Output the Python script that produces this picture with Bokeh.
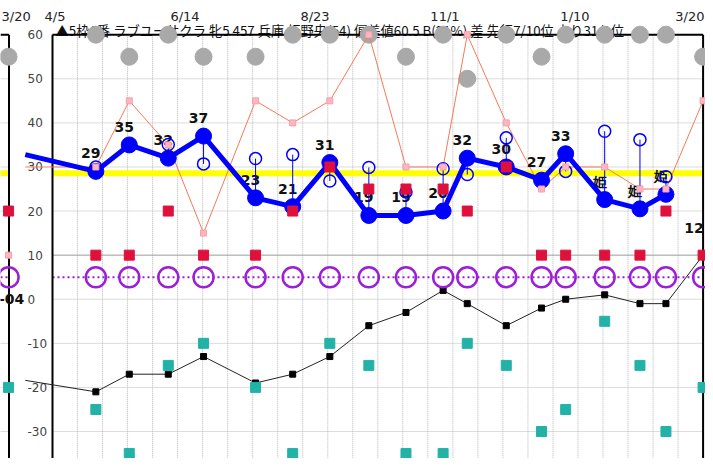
import datetime as dt
from bokeh.plotting import figure
from bokeh.models import Range1d
from bokeh.core.properties import value
from bokeh.embed import file_html
from bokeh.resources import INLINE

# ---------------- data ----------------
BASE = dt.date(2022, 4, 5)

race_dates = ["2022-04-27", "2022-05-15", "2022-06-05", "2022-06-24", "2022-07-22",
              "2022-08-11", "2022-08-31", "2022-09-21", "2022-10-11", "2022-10-31",
              "2022-11-13", "2022-12-04", "2022-12-23", "2023-01-05", "2023-01-26",
              "2023-02-14", "2023-02-28"]
blue_vals = [29, 35, 32, 37, 23, 21, 31, 19, 19, 20, 32, 30, 27, 33, 22.6, 20.5, 23.8]
blue_labels = ["29", "35", "32", "37", "23", "21", "31", "19", "19", "20", "32", "30",
               "27", "33", "姫", "姫", "姫"]
open_vals = [30, 35, 35.1, 30.7, 31.9, 32.8, 26.8, 29.9, 24.3, 29.6, 28.3, 36.6, 27,
             29.0, 38.1, 36.2, 27.8]
orange_vals = [30, 45, 35, 15, 45, 40, 45, 60, 30, 30, 60, 40, 25, 30, 30, 25, 25]
black_vals = [-21, -17, -17, -13, -19, -17, -13, -6, -3, 2, -1, -6, -2, 0, 1, -1, -1]
red_vals = [10, 10, 20, 10, 10, 20, 30, 25, 25, 25, 20, 30, 10, 10, 10, 10, 20]
teal_vals = [-25, -35, -15, -10, -20, -35, -10, -15, -35, -35, -10, -15, -30, -25, -5,
             -15, -30]
gray_vals = [60, 55, 60, 55, 55, 60, 60, 60, 55, 60, 50, 60, 55, 60, 60, 60, 60]
purple_level = 5
yellow_level = 28.6

# previous race (left column) and next race (right edge)
prev_date = "2022-03-11"
prev = dict(gray=55, red=20, teal=-20, orange=10, label="-04", label_val=-4)
next_date = "2023-03-20"
nxt = dict(gray=55, red=10, teal=-20, orange=45, black=10, label="12", label_val=12)
# values where the lines enter the chart from the left
lead_in_date = "2022-03-20"
lead_in = dict(blue=32.8, orange=30, black=-18.4)

date_ticks = ["2022-04-05", "2022-06-14", "2022-08-23", "2022-11-01", "2023-01-10",
              "2023-03-20"]
date_tick_labels = ["4/5", "6/14", "8/23", "11/1", "1/10", "3/20"]
y_ticks = [60, 50, 40, 30, 20, 10, 0, -10, -20, -30]

title = ("▲5枠6番 ラブユーサクラ 牝5 457 兵庫 板野央(54) 偏差値60.5 B(21%) "
         "差 先行7/10位 上り31/1位")


def day(s):
    return (dt.date.fromisoformat(s) - BASE).days


xs = [day(s) for s in race_dates]
xp = day(prev_date)
xn = day(next_date)
xl = day(lead_in_date)

# ---------------- screen <-> data helpers (layout only) ----------------
PX_PER_DAY = 1.857
X0 = 54.5
PX_PER_UNIT = 4.409
Y60 = 34.2
W, H = 705, 458


def sx(X):
    return (X - X0) / PX_PER_DAY


def sy(Y):
    return 60 - (Y - Y60) / PX_PER_UNIT


p = figure(width=W, height=H, x_range=Range1d(sx(0), sx(W)),
           y_range=Range1d(sy(H), sy(0)), output_backend="svg",
           toolbar_location=None, min_border=0, x_axis_location=None,
           y_axis_location=None, outline_line_color=None)
p.grid.visible = False
p.background_fill_color = "white"

left_b = sx(52)
right_b = xn
y_bot = sy(H + 10)

# vertical dotted grid (26 equal parts)
vg = [left_b + k * (right_b - left_b) / 26 for k in range(1, 26)]
p.segment(x0=vg, y0=[60] * len(vg), x1=vg, y1=[y_bot] * len(vg),
          line_color="#b8b8b8", line_width=1, line_dash="1 1")
# horizontal grid
hg = [t for t in y_ticks if t not in (60, 10)]
p.segment(x0=[left_b] * len(hg), y0=hg, x1=[right_b] * len(hg), y1=hg,
          line_color="#b8b8b8", line_width=1, line_dash="1 1")
p.segment(x0=[sx(0)] * len(hg), y0=hg, x1=[sx(8)] * len(hg), y1=hg,
          line_color="#b8b8b8", line_width=1, line_dash="1 1")
p.segment(x0=[left_b], y0=[10], x1=[right_b], y1=[10], line_color="#9a9a9a",
          line_width=1)

# texts
p.text(x=[sx(55)], y=[sy(30)], text=[title], text_font=value("Noto Sans CJK JP"),
       text_font_size="13.3px", text_baseline="alphabetic", text_align="left",
       text_color="#111")
p.text(x=[day(d) for d in date_ticks[:-1]], y=[sy(15.5)] * 5, text=date_tick_labels[:-1],
       text_font=value("DejaVu Sans"), text_font_size="13px", text_align="center",
       text_baseline="alphabetic", text_color="#222")
p.text(x=[sx(704)], y=[sy(15.5)], text=[date_tick_labels[-1]],
       text_font=value("DejaVu Sans"), text_font_size="13px", text_align="right",
       text_baseline="alphabetic", text_color="#222")
p.text(x=[sx(1)], y=[sy(15.5)], text=["3/20"], text_font=value("DejaVu Sans"),
       text_font_size="13px", text_align="left", text_baseline="alphabetic",
       text_color="#222")
p.text(x=[sx(27)] * len(y_ticks), y=y_ticks, text=[str(t) for t in y_ticks],
       text_font=value("DejaVu Sans"), text_font_size="12px", text_align="left",
       text_baseline="middle", text_color="#444")

# yellow level & purple dotted level
p.segment(x0=[left_b, sx(0)], y0=[yellow_level] * 2, x1=[right_b, sx(8)],
          y1=[yellow_level] * 2, line_color="#ffff00", line_width=6)
p.segment(x0=[left_b, sx(0)], y0=[purple_level] * 2, x1=[right_b, sx(8)],
          y1=[purple_level] * 2, line_color="#9a1fd6", line_width=2, line_dash="2 3")

# frame
p.segment(x0=[left_b, left_b, right_b, sx(8.5), sx(0)], y0=[60, 60, 60, 60, 60],
          x1=[right_b, left_b, right_b, sx(8.5), sx(8.5)],
          y1=[60, y_bot, y_bot, y_bot, 60],
          line_color="black", line_width=2)

allx = [xp] + xs + [xn]

# gray dots
p.scatter(x=allx, y=[prev["gray"]] + gray_vals + [nxt["gray"]], marker="circle",
          size=17, fill_color="#a9a9a9", line_color="#a9a9a9")

# orange line
ox = [xl] + xs + [xn]
oy = [lead_in["orange"]] + orange_vals + [nxt["orange"]]
p.line(x=ox, y=oy, line_color="#f47a5a", line_width=1)

# black line
bx = [xl] + xs + [xn]
by = [lead_in["black"]] + black_vals + [nxt["black"]]
p.line(x=bx, y=by, line_color="#222222", line_width=1)
p.scatter(x=xs, y=black_vals, marker="square", size=6, fill_color="black",
          line_color="black")

# value labels
p.text(x=xs, y=blue_vals, text=blue_labels,
       x_offset=-5, y_offset=-18, text_font=value("DejaVu Sans"),
       text_font_size="14px", text_font_style="bold", text_align="center",
       text_baseline="middle", text_color="#111")
p.text(x=[xn], y=[nxt["label_val"]], text=[nxt["label"]],
       x_offset=-9, y_offset=-18, text_font=value("DejaVu Sans"),
       text_font_size="14px", text_font_style="bold", text_align="center",
       text_baseline="middle", text_color="#111")
p.text(x=[xp], y=[prev["label_val"]], text=[prev["label"]], x_offset=3, y_offset=-18,
       text_font=value("DejaVu Sans"), text_font_size="14px", text_font_style="bold",
       text_align="center", text_baseline="middle", text_color="#111")

# blue line
p.line(x=[xl] + xs, y=[lead_in["blue"]] + blue_vals, line_color="#0000ff", line_width=5)
p.segment(x0=xs, y0=blue_vals, x1=xs, y1=open_vals, line_color="#0000ff", line_width=1)
p.scatter(x=xs, y=blue_vals, marker="circle", size=16, fill_color="#0000ff",
          line_color="#0000ff")
p.scatter(x=xs, y=open_vals, marker="circle", size=12, fill_color=None,
          line_color="#0000ff", line_width=1.5)

# purple circles
p.scatter(x=allx, y=[purple_level] * len(allx), marker="circle", size=20,
          fill_color=None, line_color="#9a1fd6", line_width=2.5)

# red & teal squares
p.scatter(x=allx, y=[prev["red"]] + red_vals + [nxt["red"]], marker="square", size=10,
          fill_color="#e0103c", line_color="#e0103c")
p.scatter(x=allx, y=[prev["teal"]] + teal_vals + [nxt["teal"]], marker="square",
          size=10, fill_color="#22b2a8", line_color="#22b2a8")

# pink markers on orange line
p.scatter(x=[xp] + xs + [xn], y=[prev["orange"]] + orange_vals + [nxt["orange"]],
          marker="square", size=6, fill_color="#ffb6c1", line_color="#f4a0a8")

open("out.html", "w").write(file_html(p, INLINE))
